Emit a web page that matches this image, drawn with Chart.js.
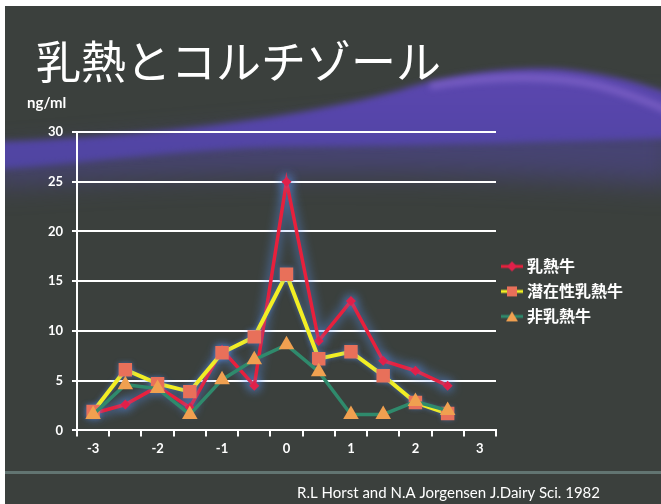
<!DOCTYPE html>
<html>
<head>
<meta charset="utf-8">
<script src="https://cdn.jsdelivr.net/npm/chart.js@4.4.1/dist/chart.umd.min.js"></script>
<style>
html, body { margin: 0; padding: 0; background: #fff; }
#wrap { width: 661px; height: 504px; }
</style>
</head>
<body>
<div id="wrap"><canvas id="cortisolChart" width="661" height="504"></canvas></div>
<script>
// days relative to calving
var dayLabels = ['-3', '-2.5', '-2', '-1.5', '-1', '-0.5', '0', '0.5', '1', '1.5', '2', '2.5', '3'];
var seriesNames = ['乳熱牛', '潜在性乳熱牛', '非乳熱牛'];
var milkFever = [1.7, 2.6, 4.4, 2.3, 8.1, 4.5, 25.0, 9.0, 13.0, 7.0, 6.0, 4.5];
var subclinical = [1.9, 6.1, 4.7, 3.9, 7.8, 9.4, 15.7, 7.2, 7.9, 5.5, 2.8, 1.7];
var normalCows = [1.6, 4.6, 4.2, 1.6, 5.1, 7.1, 8.6, 5.9, 1.6, 1.6, 2.9, 2.0];
var yTicks = [0, 5, 10, 15, 20, 25, 30];

var titleText = '乳熱とコルチゾール';
var unitText = 'ng/ml';
var citation = 'R.L Horst and N.A Jorgensen J.Dairy Sci. 1982';

// small icons for the legend: line with marker in the middle
function legendIcon(lineColor, markerColor, shape) {
    var c = document.createElement('canvas');
    c.width = 22;
    c.height = 12;
    var g = c.getContext('2d');
    g.strokeStyle = lineColor;
    g.lineWidth = 3;
    g.beginPath();
    g.moveTo(0, 6);
    g.lineTo(22, 6);
    g.stroke();
    g.fillStyle = markerColor;
    g.beginPath();
    if (shape === 'diamond') {
        g.moveTo(11, 1); g.lineTo(16, 6); g.lineTo(11, 11); g.lineTo(6, 6);
    } else if (shape === 'square') {
        g.rect(6, 1, 10, 10);
    } else {
        g.moveTo(11, 1); g.lineTo(17, 11); g.lineTo(5, 11);
    }
    g.closePath();
    g.fill();
    return c;
}

// slide background with the purple wave
var slideBackground = {
    id: 'slideBackground',
    beforeDraw: function (chart) {
        var ctx = chart.ctx, w = chart.width, h = chart.height;
        ctx.save();
        ctx.fillStyle = '#ffffff';
        ctx.fillRect(0, 0, w, h);
        ctx.fillStyle = '#3b403d';
        ctx.fillRect(5, 6, w - 5, h - 6);

        ctx.beginPath();
        ctx.rect(5, 6, w - 5, h - 6);
        ctx.clip();

        // soft lower haze
        ctx.filter = 'blur(14px)';
        ctx.fillStyle = 'rgba(78,70,150,0.6)';
        ctx.beginPath();
        ctx.moveTo(-10, 155);
        ctx.bezierCurveTo(200, 140, 400, 115, 675, 105);
        ctx.lineTo(675, 185);
        ctx.bezierCurveTo(450, 170, 250, 168, -10, 185);
        ctx.closePath();
        ctx.fill();

        ctx.filter = 'blur(3px)';
        var grad = ctx.createLinearGradient(0, 65, 0, 170);
        grad.addColorStop(0, '#5d48b0');
        grad.addColorStop(0.5, '#5645aa');
        grad.addColorStop(1, '#4f45a0');
        ctx.fillStyle = grad;
        ctx.beginPath();
        ctx.moveTo(-10, 142);
        ctx.bezierCurveTo(150, 137, 300, 118, 400, 90);
        ctx.bezierCurveTo(450, 74, 520, 65, 570, 70);
        ctx.bezierCurveTo(620, 76, 650, 86, 675, 96);
        ctx.lineTo(675, 138);
        ctx.bezierCurveTo(550, 142, 400, 146, 280, 147);
        ctx.bezierCurveTo(180, 150, 90, 163, -10, 170);
        ctx.closePath();
        ctx.fill();

        ctx.filter = 'blur(3px)';
        ctx.strokeStyle = 'rgba(140,108,210,0.6)';
        ctx.lineWidth = 7;
        ctx.beginPath();
        ctx.moveTo(430, 86);
        ctx.bezierCurveTo(500, 74, 560, 76, 600, 86);
        ctx.bezierCurveTo(630, 94, 650, 102, 675, 114);
        ctx.stroke();
        ctx.filter = 'none';

        ctx.fillStyle = '#627572';
        ctx.fillRect(5, 471, w, 3);
        ctx.restore();
    }
};

// bluish glow behind the lines
var lineGlow = {
    id: 'lineGlow',
    beforeDatasetDraw: function (chart, args) {
        var ds = chart.data.datasets[args.index];
        if (!ds.glowColor) return;
        chart.ctx.save();
        chart.ctx.shadowColor = ds.glowColor;
        chart.ctx.shadowBlur = ds.glowBlur;
    },
    afterDatasetDraw: function (chart, args) {
        if (chart.data.datasets[args.index].glowColor) chart.ctx.restore();
    }
};

// unit label and source note
var slideNotes = {
    id: 'slideNotes',
    afterDraw: function (chart) {
        var ctx = chart.ctx, area = chart.chartArea;
        ctx.save();
        ctx.fillStyle = '#ffffff';
        ctx.textBaseline = 'middle';
        ctx.font = 'bold 15px Lato';
        ctx.fillText(unitText, area.left - 50, area.top - 29);
        ctx.font = '15px Lato';
        ctx.textAlign = 'right';
        ctx.fillText(citation, 600, 493);
        ctx.restore();
    }
};

var ctx = document.getElementById('cortisolChart').getContext('2d');
var cortisolChart = new Chart(ctx, {
    type: 'line',
    data: {
        labels: dayLabels,
        datasets: [{
            label: seriesNames[0],
            data: milkFever,
            borderColor: '#e8203c',
            borderWidth: 3.5,
            pointStyle: 'rectRot',
            pointRadius: 5,
            pointBackgroundColor: '#e0204a',
            pointBorderWidth: 0,
            glowColor: 'rgba(90,150,255,1)',
            glowBlur: 11,
            order: 2,
            tension: 0
        }, {
            label: seriesNames[1],
            data: subclinical,
            borderColor: '#f2ee24',
            borderWidth: 4,
            pointStyle: 'rect',
            pointRadius: 9.5,
            pointBackgroundColor: '#e8705a',
            pointBorderWidth: 0,
            glowColor: 'rgba(90,150,255,0.5)',
            glowBlur: 5,
            order: 1,
            tension: 0
        }, {
            label: seriesNames[2],
            data: normalCows,
            borderColor: '#2f8a6c',
            borderWidth: 3.5,
            pointStyle: 'triangle',
            pointRadius: 9,
            pointBackgroundColor: '#f0a050',
            pointBorderWidth: 0,
            order: 0,
            tension: 0
        }]
    },
    options: {
        responsive: false,
        animation: false,
        layout: { padding: { left: 36, right: 28, top: 0, bottom: 42 } },
        scales: {
            x: {
                offset: true,
                grid: {
                    display: true,
                    drawOnChartArea: false,
                    offset: true,
                    color: '#ffffff',
                    lineWidth: 2,
                    tickLength: 6
                },
                border: { color: '#ffffff', width: 2 },
                ticks: {
                    autoSkip: false,
                    maxRotation: 0,
                    color: '#ffffff',
                    padding: 5,
                    font: { family: 'Lato', size: 13, weight: 'bold' },
                    callback: function (value, index) {
                        var v = Number(dayLabels[index]);
                        return Number.isInteger(v) ? dayLabels[index] : '';
                    }
                }
            },
            y: {
                min: 0,
                max: 30,
                afterBuildTicks: function (scale) {
                    scale.ticks = yTicks.map(function (v) { return { value: v }; });
                },
                afterFit: function (scale) { scale.width = 41; },
                grid: { color: '#ffffff', lineWidth: 2, tickLength: 5 },
                border: { color: '#ffffff', width: 2 },
                ticks: {
                    color: '#ffffff',
                    padding: 9,
                    font: { family: 'Lato', size: 13, weight: 'bold' }
                }
            }
        },
        plugins: {
            title: {
                display: true,
                text: titleText,
                align: 'start',
                color: '#ffffff',
                font: { family: 'Noto Sans CJK JP', size: 45, weight: 'normal' },
                padding: { top: 35, bottom: 43 }
            },
            legend: {
                position: 'right',
                fullSize: false,
                title: {
                    display: true,
                    text: ' ',
                    font: { size: 12 },
                    padding: { top: 0, bottom: 6 }
                },
                labels: {
                    color: '#ffffff',
                    usePointStyle: true,
                    pointStyleWidth: 14,
                    padding: 9,
                    font: { family: 'Noto Sans CJK JP', size: 16, weight: 'bold' },
                    sort: function (a, b) { return a.datasetIndex - b.datasetIndex; },
                    generateLabels: function (chart) {
                        var icons = [
                            legendIcon('#e8203c', '#e0204a', 'diamond'),
                            legendIcon('#f2ee24', '#e8705a', 'square'),
                            legendIcon('#2f8a6c', '#f0a050', 'triangle')
                        ];
                        return chart.data.datasets.map(function (ds, i) {
                            return {
                                text: ds.label,
                                fontColor: '#ffffff',
                                pointStyle: icons[i],
                                datasetIndex: i,
                                hidden: false,
                                lineWidth: 0
                            };
                        });
                    }
                }
            },
            tooltip: { enabled: false }
        }
    },
    plugins: [slideBackground, lineGlow, slideNotes]
});
</script>
</body>
</html>
